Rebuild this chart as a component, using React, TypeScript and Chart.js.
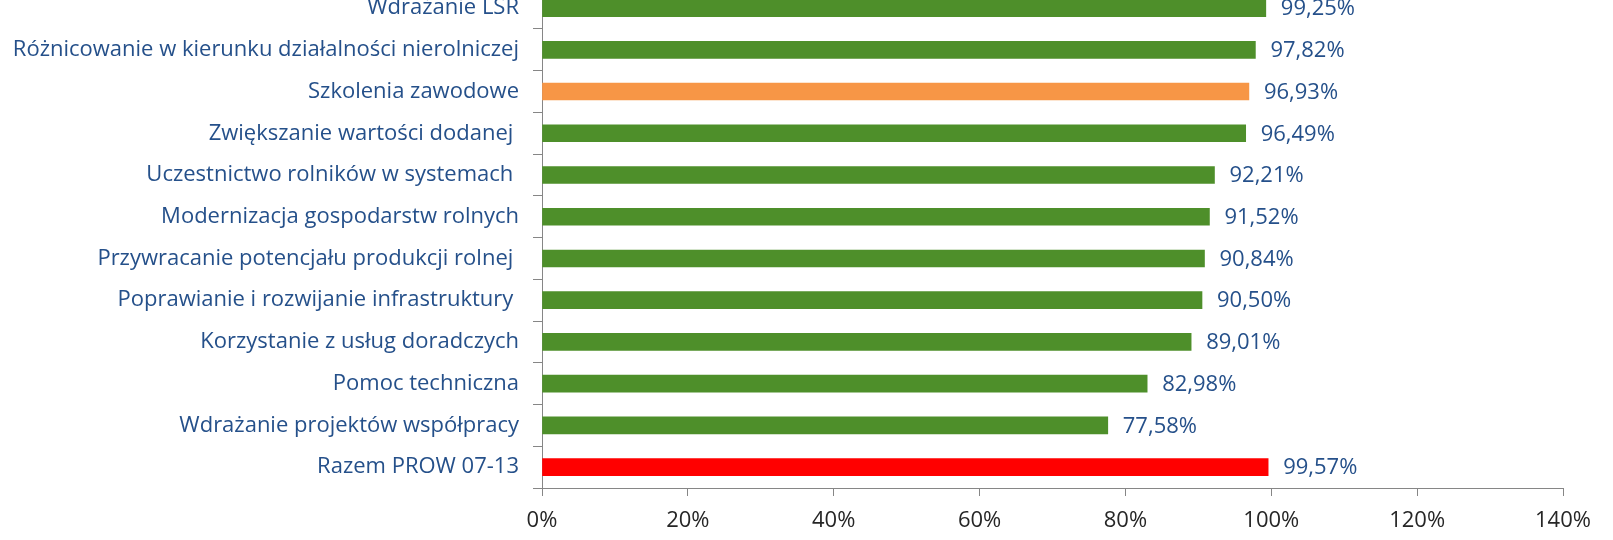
import React, { useEffect, useRef } from "react";
import { Chart, registerables } from "chart.js";

Chart.register(...registerables);

const categories = [
  "Wdrażanie LSR",
  "Różnicowanie w kierunku działalności nierolniczej",
  "Szkolenia zawodowe",
  "Zwiększanie wartości dodanej ",
  "Uczestnictwo rolników w systemach ",
  "Modernizacja gospodarstw rolnych",
  "Przywracanie potencjału produkcji rolnej ",
  "Poprawianie i rozwijanie infrastruktury ",
  "Korzystanie z usług doradczych",
  "Pomoc techniczna",
  "Wdrażanie projektów współpracy",
  "Razem PROW 07-13",
];

const values = [99.25, 97.82, 96.93, 96.49, 92.21, 91.52, 90.84, 90.5, 89.01, 82.98, 77.58, 99.57];

const GREEN = "#4E8F2A";
const ORANGE = "#F79646";
const RED = "#FF0000";
const barColors = [GREEN, GREEN, ORANGE, GREEN, GREEN, GREEN, GREEN, GREEN, GREEN, GREEN, GREEN, RED];

const xMin = 0;
const xMax = 140;
const xStep = 20;

const LABEL_COLOR = "#25508A";
const FONT = "'Open Sans'";

const valueLabels = {
  id: "valueLabels",
  afterDatasetsDraw(chart: any) {
    const ctx = chart.ctx;
    const meta = chart.getDatasetMeta(0);
    ctx.save();
    ctx.font = `22px ${FONT}`;
    ctx.fillStyle = LABEL_COLOR;
    ctx.textAlign = "left";
    ctx.textBaseline = "middle";
    meta.data.forEach((el: any, i: number) => {
      const txt = values[i].toFixed(2).replace(".", ",") + "%";
      ctx.fillText(txt, el.x + 15, el.y + 1);
    });
    ctx.restore();
  },
};

export default function App() {
  const ref = useRef<HTMLCanvasElement | null>(null);
  useEffect(() => {
    if (!ref.current) return;
    const chart = new Chart(ref.current, {
      type: "bar",
      data: {
        labels: categories,
        datasets: [
          {
            data: values,
            backgroundColor: barColors,
            borderWidth: 0,
            barThickness: 17,
          },
        ],
      },
      options: {
        indexAxis: "y",
        animation: false,
        responsive: true,
        maintainAspectRatio: false,
        layout: { padding: { top: 23, right: 50, left: 0, bottom: 0 } },
        plugins: { legend: { display: false }, tooltip: { enabled: false } },
        scales: {
          x: {
            min: xMin,
            max: xMax,
            afterFit: (s: any) => {
              s.height = 52;
            },
            ticks: {
              stepSize: xStep,
              color: "#262626",
              font: { family: FONT, size: 22 },
              padding: 12,
              callback: (v: any) => `${v}%`,
            },
            grid: { display: true, drawOnChartArea: false, drawTicks: true, tickLength: 8, color: "#868686" },
            border: { display: true, color: "#868686", width: 1 },
          },
          y: {
            afterFit: (s: any) => {
              s.width = 542;
            },
            ticks: {
              color: LABEL_COLOR,
              font: { family: FONT, size: 22 },
              padding: 14,
              autoSkip: false,
            },
            grid: { display: true, drawOnChartArea: false, drawTicks: true, tickLength: 9, color: "#868686", offset: true },
            border: { display: true, color: "#868686", width: 1 },
          },
        },
      },
      plugins: [valueLabels],
    });
    return () => chart.destroy();
  }, []);
  return (
    <div style={{ position: "absolute", left: 0, top: -40, width: 1613, height: 580 }}>
      <canvas ref={ref} />
    </div>
  );
}
